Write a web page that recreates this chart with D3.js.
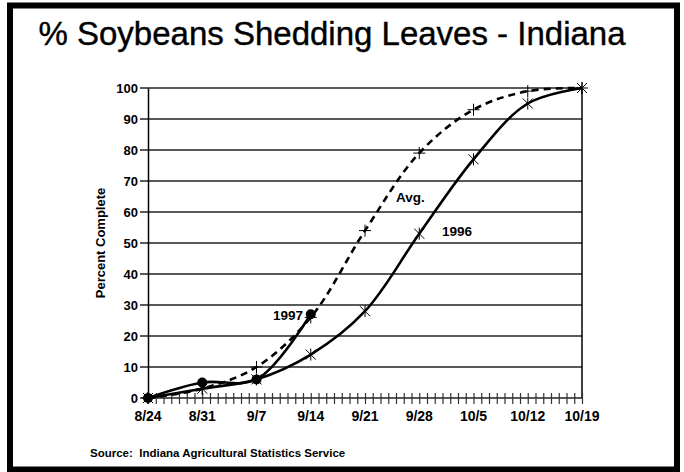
<html>
<head>
    <meta charset="UTF-8">
    <title>% Soybeans Shedding Leaves - Indiana</title>
    <script src="https://cdnjs.cloudflare.com/ajax/libs/d3/7.8.5/d3.min.js"></script>
    <style>
        body { margin: 0; background: #fff; }
        text { font-family: "Liberation Sans", Arial, sans-serif; }
    </style>
</head>
<body>
<script>
    // week labels, day offsets from 8/24
    var dates = ["8/24", "8/31", "9/7", "9/14", "9/21", "9/28", "10/5", "10/12", "10/19"];
    var days = [0, 7, 14, 21, 28, 35, 42, 49, 56];
    var yTicks = [0, 10, 20, 30, 40, 50, 60, 70, 80, 90, 100];

    var y1997 = [0, 5, 6, 27];
    var y1996 = [0, 3, 6, 14, 28, 53, 77, 95, 100];
    var yAvg = [0, 3, 10, 26, 54, 79, 93, 99, 100];

    var width = 684, height = 472;
    var margin = {left: 148, right: 102, top: 88, bottom: 74};

    var svg = d3.select("body").append("svg")
            .attr("width", width)
            .attr("height", height);

    svg.append("rect")
            .attr("x", 10).attr("y", 5.5)
            .attr("width", 667).attr("height", 464)
            .attr("fill", "none")
            .attr("stroke", "#000")
            .attr("stroke-width", 6);

    svg.append("text")
            .attr("x", 332).attr("y", 45)
            .attr("text-anchor", "middle")
            .attr("font-size", 33)
            .attr("stroke", "#000").attr("stroke-width", 0.4)
            .text("% Soybeans Shedding Leaves - Indiana");

    var xScale = d3.scaleLinear().domain([0, 56]).range([margin.left, width - margin.right]);
    var yScale = d3.scaleLinear().domain([0, 100]).range([height - margin.bottom, margin.top]);

    var g = svg.append("g");

    // grid lines
    g.selectAll(".grid")
            .data(yTicks)
            .enter().append("line")
            .attr("x1", margin.left - 8)
            .attr("x2", xScale(56))
            .attr("y1", function (d) { return yScale(d); })
            .attr("y2", function (d) { return yScale(d); })
            .attr("stroke", "#222")
            .attr("stroke-width", 1.5);

    // y axis labels
    var yAxis = d3.axisLeft(yScale).tickValues(yTicks).tickSize(0).tickPadding(10);
    var ya = g.append("g")
            .attr("transform", "translate(" + margin.left + ",0)")
            .call(yAxis);
    ya.select(".domain").attr("stroke", "#000").attr("stroke-width", 1.5);
    ya.selectAll("text").attr("font-size", 13).attr("font-weight", "bold")
            .attr("font-family", "Liberation Sans, Arial, sans-serif").attr("fill", "#000");

    // right border of plot
    g.append("line")
            .attr("x1", xScale(56)).attr("x2", xScale(56))
            .attr("y1", yScale(100)).attr("y2", yScale(0))
            .attr("stroke", "#000").attr("stroke-width", 1.5);

    // x axis: daily ticks crossing the axis
    var xAxis = d3.axisBottom(xScale).tickValues(d3.range(0, 57)).tickSize(6).tickFormat("");
    var xa = g.append("g")
            .attr("transform", "translate(0," + yScale(0) + ")")
            .call(xAxis);
    xa.selectAll(".tick line").attr("y1", -5).attr("stroke", "#333").attr("stroke-width", 1.2);
    xa.select(".domain").remove();

    g.selectAll(".xlab")
            .data(dates)
            .enter().append("text")
            .attr("x", function (d, i) { return xScale(days[i]); })
            .attr("y", 421)
            .attr("text-anchor", "middle")
            .attr("font-size", 14)
            .attr("font-weight", "bold")
            .text(function (d) { return d; });

    svg.append("text")
            .attr("transform", "translate(105,243) rotate(-90)")
            .attr("text-anchor", "middle")
            .attr("font-size", 13)
            .attr("font-weight", "bold")
            .text("Percent Complete");

    var line = d3.line()
            .x(function (d, i) { return xScale(days[i]); })
            .y(function (d) { return yScale(d); })
            .curve(d3.curveCatmullRom.alpha(0.5));

    g.append("path").datum(yAvg)
            .attr("d", line)
            .attr("fill", "none").attr("stroke", "#000")
            .attr("stroke-width", 2.6)
            .attr("stroke-dasharray", "7,5");

    g.append("path").datum(y1996)
            .attr("d", line)
            .attr("fill", "none").attr("stroke", "#000")
            .attr("stroke-width", 2.6);

    g.append("path").datum(y1997)
            .attr("d", line)
            .attr("fill", "none").attr("stroke", "#000")
            .attr("stroke-width", 2.6);

    // markers
    g.selectAll(".plus")
            .data(yAvg)
            .enter().append("path")
            .attr("d", function (d, i) {
                var x = xScale(days[i]), y = yScale(d);
                return "M" + (x - 6) + "," + y + "H" + (x + 6) + "M" + x + "," + (y - 6) + "V" + (y + 6);
            })
            .attr("stroke", "#000").attr("stroke-width", 1);

    g.selectAll(".star")
            .data(y1996)
            .enter().append("path")
            .attr("d", function (d, i) {
                var x = xScale(days[i]), y = yScale(d), r = 5;
                return "M" + (x - r) + "," + (y - r) + "L" + (x + r) + "," + (y + r) +
                        "M" + (x - r) + "," + (y + r) + "L" + (x + r) + "," + (y - r) +
                        "M" + x + "," + (y - r - 1) + "V" + (y + r + 1);
            })
            .attr("stroke", "#000").attr("stroke-width", 1);

    g.selectAll(".dot")
            .data(y1997)
            .enter().append("circle")
            .attr("cx", function (d, i) { return xScale(days[i]); })
            .attr("cy", function (d) { return yScale(d); })
            .attr("r", 5)
            .attr("fill", "#000");

    // series labels
    var labels = [
        {t: "1997", x: 303, y: 320, a: "end"},
        {t: "Avg.", x: 396, y: 202, a: "start"},
        {t: "1996", x: 442, y: 236, a: "start"}
    ];
    g.selectAll(".slab")
            .data(labels)
            .enter().append("text")
            .attr("x", function (d) { return d.x; })
            .attr("y", function (d) { return d.y; })
            .attr("text-anchor", function (d) { return d.a; })
            .attr("font-size", 13.5)
            .attr("font-weight", "bold")
            .text(function (d) { return d.t; });

    svg.append("text")
            .attr("x", 90).attr("y", 457)
            .attr("font-size", 11.5)
            .attr("font-weight", "bold")
            .attr("xml:space", "preserve")
            .text("Source:  Indiana Agricultural Statistics Service");
</script>
</body>
</html>
